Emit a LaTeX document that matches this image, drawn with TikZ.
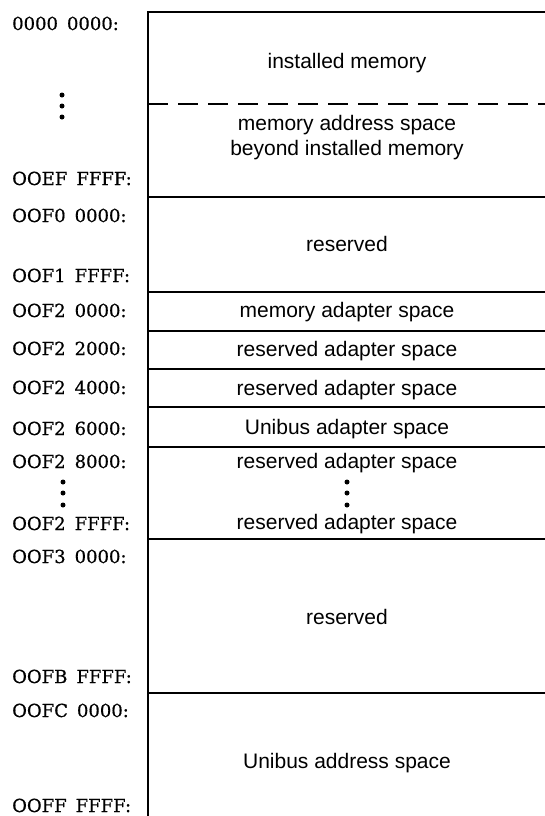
\documentclass[tikz,border=0pt]{standalone}
\usepackage{fontspec}
\setmainfont{Liberation Sans}
\newfontfamily\addrfont[FakeBold=0.6]{DejaVu Serif}
\newcommand\addrsetup{\addrfont\fontsize{18}{20}\selectfont\spaceskip=9pt\relax}
\begin{document}
\begin{tikzpicture}[x=1pt,y=-1pt,
  rule/.style={line width=1.6pt},
  dashrule/.style={line width=1.4pt, dash pattern=on 20pt off 10pt},
  region/.style={anchor=base, inner sep=0pt, font=\fontsize{21}{25}\selectfont, align=center},
  addr/.style={anchor=base west, inner sep=0pt, font=\addrsetup},
  dot/.style={circle, fill=black, inner sep=0pt, minimum size=5pt}]
\useasboundingbox (0,0) rectangle (545,816);
% frame
\coordinate (tl) at (148,12);
\coordinate (bl) at (148,816);
\draw[rule] (545,12) -- (tl) -- (bl);
% separators
\coordinate (d1) at (148,104);
\draw[dashrule] (d1) -- (545,104);
\foreach \yy in {197,292,331,369,407,447,539,693}{
  \draw[rule] (148,\yy) -- (545,\yy);
}
% region texts
\node[region] (r1) at (347,68) {installed memory};
\node[region] (r2) at (347,155) {memory address space\\beyond installed memory};
\node[region] (r3) at (347,251) {reserved};
\node[region] (r4) at (347,317) {memory adapter space};
\node[region] (r5) at (347,356) {reserved adapter space};
\node[region] (r6) at (347,395) {reserved adapter space};
\node[region] (r7) at (347,434) {Unibus adapter space};
\node[region] (r8) at (347,468) {reserved adapter space};
\node[dot] (m1) at (347,482) {};
\node[dot] (m2) at (347,493) {};
\node[dot] (m3) at (347,505) {};
\node[region] (r9) at (347,529) {reserved adapter space};
\node[region] (r10) at (347,624) {reserved};
\node[region] (r11) at (347,768) {Unibus address space};
% address labels
\node[addr] (a1) at (12,30) {0000 0000:};
\node[dot] (l1) at (62,95) {};
\node[dot] (l2) at (62,106) {};
\node[dot] (l3) at (62,117) {};
\node[addr] (a2) at (12,185) {OOEF FFFF:};
\node[addr] (a3) at (12,222) {OOF0 0000:};
\node[addr] (a4) at (12,282) {OOF1 FFFF:};
\node[addr] (a5) at (12,317) {OOF2 0000:};
\node[addr] (a6) at (12,355) {OOF2 2000:};
\node[addr] (a7) at (12,394) {OOF2 4000:};
\node[addr] (a8) at (12,435) {OOF2 6000:};
\node[addr] (a9) at (12,468) {OOF2 8000:};
\node[dot] (l4) at (63,482) {};
\node[dot] (l5) at (63,493) {};
\node[dot] (l6) at (63,505) {};
\node[addr] (a10) at (12,530) {OOF2 FFFF:};
\node[addr] (a11) at (12,563) {OOF3 0000:};
\node[addr] (a12) at (12,683) {OOFB FFFF:};
\node[addr] (a13) at (12,717) {OOFC 0000:};
\node[addr] (a14) at (12,812) {OOFF FFFF:};
\end{tikzpicture}
\end{document}
